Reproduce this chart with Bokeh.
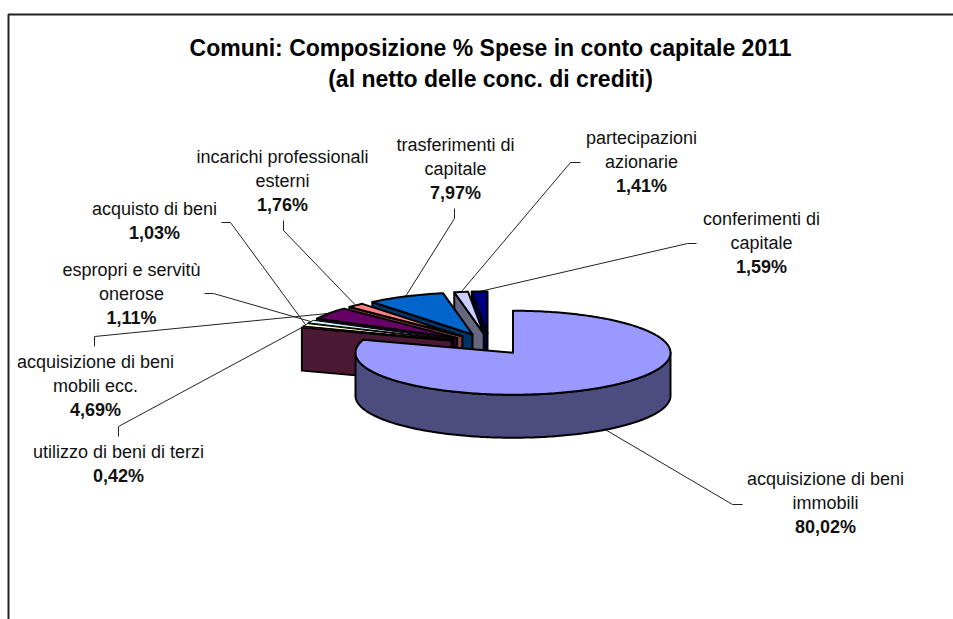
import math

from bokeh.core.properties import value
from bokeh.embed import file_html
from bokeh.plotting import figure
from bokeh.resources import INLINE

# Spending shares, in drawing order clockwise from twelve o'clock
voci = [
    "acquisizione di beni immobili",
    "utilizzo di beni di terzi",
    "acquisto di beni",
    "espropri e servitù onerose",
    "acquisizione di beni mobili ecc.",
    "incarichi professionali esterni",
    "trasferimenti di capitale",
    "partecipazioni azionarie",
    "conferimenti di capitale",
]
quote = [80.02, 0.42, 1.03, 1.11, 4.69, 1.76, 7.97, 1.41, 1.59]
colori = ["#9999FF", "#993366", "#FFFFCC", "#CCFFFF", "#660066",
          "#FF8080", "#0066CC", "#CCCCFF", "#000080"]
titolo = ["Comuni: Composizione % Spese in conto capitale 2011",
          "(al netto delle conc. di crediti)"]
righe = [
    ["acquisizione di beni", "immobili"],
    ["utilizzo di beni di terzi"],
    ["acquisto di beni"],
    ["espropri e servitù", "onerose"],
    ["acquisizione di beni", "mobili ecc."],
    ["incarichi professionali", "esterni"],
    ["trasferimenti di", "capitale"],
    ["partecipazioni", "azionarie"],
    ["conferimenti di", "capitale"],
]

# Pie projection, in page pixels
CX, CY = 489.0, 343.6
RX, RY = 157.5, 42.0
SPESSORE = 43.0
ESPLOSO = 40.0

# Label block centre x, first line centre y, and the leader's elbow points
etichette = [
    (825, 478, [(742, 504), (732, 504)]),
    (118, 451, [(118, 436), (118, 426)]),
    (154, 208, [(221, 222), (230, 222)]),
    (131, 269, [(204, 293), (213, 293)]),
    (95, 361, [(94, 346), (94, 336)]),
    (282, 156, [(283, 220), (283, 230)]),
    (455, 144, [(454, 208), (454, 218)]),
    (641, 137, [(580, 162), (570, 162)]),
    (761, 218, [(696, 243), (687, 243)]),
]
INTERLINEA = 24


def scurisci(col):
    r, g, b = (int(col[i:i + 2], 16) for i in (1, 3, 5))
    return "#%02X%02X%02X" % (r // 2, g // 2, b // 2)


def punto(apice, gradi):
    a = math.radians(gradi)
    return apice[0] + RX * math.sin(a), apice[1] - RY * math.cos(a)


def arco(apice, g0, g1):
    n = max(2, int(abs(g1 - g0)) + 2)
    return [punto(apice, g0 + (g1 - g0) * i / (n - 1)) for i in range(n)]


def disegna(poligono, colore, spessore_linea=2.0):
    xs, ys = zip(*poligono)
    p.patch(list(xs), list(ys), fill_color=colore, line_color="black",
            line_width=spessore_linea, line_join="round")


p = figure(width=953, height=619, x_range=(0, 953), y_range=(619, 0),
           output_backend="svg", toolbar_location=None, min_border=0,
           outline_line_color=None)
p.axis.visible = False
p.grid.visible = False

# Chart frame, open towards the right and bottom of the page
p.line([8, 8, 953], [619, 14, 14], line_color="#222222", line_width=2)

# Slice geometry derived from the shares
fette = []
inizio = 0.0
for quota, colore in zip(quote, colori):
    fine = inizio + quota * 3.6
    medio = math.radians((inizio + fine) / 2)
    apice = (CX + ESPLOSO * math.sin(medio),
             CY - ESPLOSO * RY / RX * math.cos(medio))
    fette.append((inizio, fine, apice, colore, quota))
    inizio = fine

# Leaders sit under the pie and end on the rim at each slice's mid angle
for (g0, g1, apice, _, _), (_, _, gomito) in zip(fette, etichette):
    gm = (g0 + g1) / 2
    xe, ye = punto(apice, gm)
    if 90 < gm < 270:
        ye += SPESSORE
    xs = [q[0] for q in gomito] + [xe]
    ys = [q[1] for q in gomito] + [ye]
    p.line(xs, ys, line_color="#222222", line_width=1)

# Small slices from the back towards the front, then the large one on top
for g0, g1, apice, colore, quota in reversed(fette[1:]):
    bordo = punto(apice, g0)
    faccia = [apice, bordo, (bordo[0], bordo[1] + SPESSORE),
              (apice[0], apice[1] + SPESSORE)]
    # The thinnest slivers get a finer outline so their fill stays visible
    tratto = 1.0 if quota < 1.2 else 2.0
    disegna(faccia, scurisci(colore))
    disegna([apice] + arco(apice, g0, g1), colore, tratto)

g0, g1, apice, colore, quota = fette[0]
sopra = arco(apice, 90, 270)
parete = sopra + [(x, y + SPESSORE) for x, y in reversed(sopra)]
disegna(parete, scurisci(colore))
disegna([apice] + arco(apice, g0, g1), colore)

# Title
p.text([490, 490], [47, 78], text=titolo, text_font=value("Liberation Sans"),
       text_font_style="bold", text_font_size="23px", text_align="center",
       text_baseline="middle", text_color="black")

# Slice labels, with the share in bold under the name
for quota, linee, (xc, yc, _) in zip(quote, righe, etichette):
    ys = [yc + INTERLINEA * i for i in range(len(linee))]
    p.text([xc] * len(linee), ys, text=linee,
           text_font=value("Liberation Sans"), text_font_size="18px",
           text_align="center", text_baseline="middle", text_color="#111111")
    percentuale = f"{quota:.2f}%".replace(".", ",")
    p.text([xc], [yc + INTERLINEA * len(linee)], text=[percentuale],
           text_font=value("Liberation Sans"), text_font_style="bold",
           text_font_size="18px", text_align="center",
           text_baseline="middle", text_color="#111111")

open("out.html", "w").write(file_html(p, INLINE))
